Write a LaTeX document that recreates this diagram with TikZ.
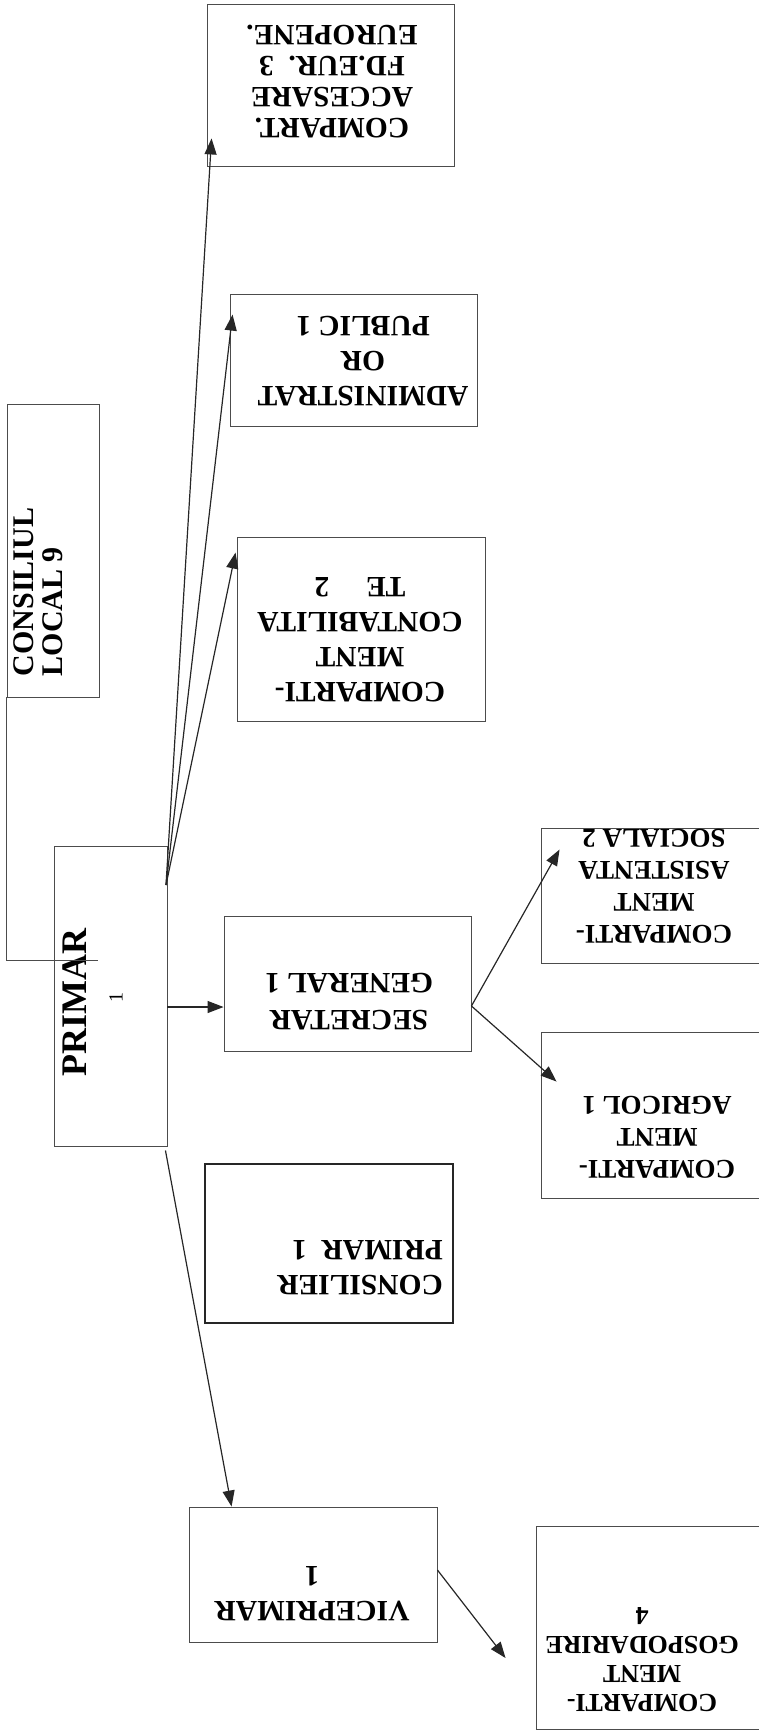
\documentclass[tikz,border=0pt]{standalone}
\usepackage{fontspec}
\setmainfont{Liberation Serif}
\usetikzlibrary{arrows.meta}

\begin{document}
\begin{tikzpicture}[x=1pt,y=-1pt,
	unit/.style={draw=black!70, line width=0.9pt, inner sep=0pt},
	box/.style 2 args={unit, minimum width=#1, minimum height=#2},
	txt/.style={rotate=180, align=center, inner sep=0pt, font=\fontsize{29.5}{35}\selectfont\bfseries},
	small/.style={font=\fontsize{27}{32}\selectfont\bfseries},
	side/.style={rotate=90, inner sep=0pt},
	link/.style={draw=black!85, line width=1.2pt, -{Triangle[length=16pt,width=12pt]}}]
	\useasboundingbox (0,0) rectangle (759,1735);
	\node[box={247pt}{162pt}] (accesare) at (330.5,85) {};
	\node[txt, font=\fontsize{29.5}{31}\selectfont\bfseries] (accesaretext) at (332,82) {COMPART.\\ACCESARE\\FD.EUR.\ \ 3\\EUROPENE.};
	\node[box={247pt}{132pt}] (admin) at (353.5,360) {};
	\node[txt] (admintext) at (363,361) {ADMINISTRAT\\OR\\PUBLIC 1};
	\node[box={248pt}{184pt}] (contab) at (361,629) {};
	\node[txt] (contabtext) at (360,640) {COMPARTI-\\MENT\\CONTABILITA\\TE\quad\ 2};
	\node[box={92pt}{293pt}] (consiliul) at (53,550.5) {};
	\node[side, align=left, font=\fontsize{30}{29}\selectfont\bfseries] (consiliultext) at (38,592) {CONSILIUL\\LOCAL 9};
	\node[box={113pt}{300pt}] (primar) at (110.5,996) {};
	\node[side, font=\fontsize{36}{36}\selectfont\bfseries] (primartext) at (75,1002) {PRIMAR};
	\node[side, font=\fontsize{20}{20}\selectfont] (primarnum) at (116,997) {1};
	\node[box={247pt}{135pt}] (secretar) at (347.5,983.5) {};
	\node[txt, font=\fontsize{29.5}{37}\selectfont\bfseries] (secretartext) at (349,1002) {SECRETAR\\GENERAL 1};
	\node[box={226pt}{135pt}] (asistenta) at (654,895.5) {};
	\node[txt, small] (asistentatext) at (654,886) {COMPARTI-\\MENT\\ASISTENTA\\SOCIALA 2};
	\node[box={226pt}{166pt}] (agricol) at (654,1115) {};
	\node[txt, small] (agricoltext) at (657,1137) {COMPARTI-\\MENT\\AGRICOL 1};
	\node[box={248pt}{159pt}, line width=2.2pt, draw=black!85] (consilier) at (329,1243.5) {};
	\node[txt, align=left, anchor=west] (consiliertext) at (443,1268) {CONSILIER\\PRIMAR\ \ 1};
	\node[box={248pt}{135pt}] (vice) at (313,1574.5) {};
	\node[txt] (vicetext) at (312,1594) {VICEPRIMAR\\1};
	\node[box={234pt}{203pt}] (gosp) at (653,1627.5) {};
	\node[txt, font=\fontsize{26}{29}\selectfont\bfseries] (gosptext) at (642,1660) {COMPARTI-\\MENT\\GOSPODARIRE\\4};
	\coordinate (fan) at (166,885);
	\coordinate (cl) at (98,960);
	\draw[draw=black!70, line width=0.9pt] (consiliul.south west) |- (cl);
	\draw[link] (fan) -- ([shift={(5pt,28pt)}]accesare.south west);
	\draw[link] (fan) -- ([shift={(3pt,-21pt)}]admin.north west);
	\draw[link] (fan) -- ([shift={(-1pt,-16pt)}]contab.north west);
	\draw[link] ([yshift=-11pt]primar.east) -- ([yshift=-23.5pt]secretar.west);
	\draw[link] ([yshift=-22.5pt]secretar.east) -- ([shift={(19pt,-22pt)}]asistenta.north west);
	\draw[link] ([yshift=-22.5pt]secretar.east) -- ([shift={(16pt,-50pt)}]agricol.north west);
	\draw[link] ([shift={(-2pt,-4pt)}]primar.south east) -- ([xshift=43pt]vice.north west);
	\draw[link] ([yshift=4.5pt]vice.east) -- ([shift={(-30pt,-30.5pt)}]gosp.west);
\end{tikzpicture}
\end{document}
